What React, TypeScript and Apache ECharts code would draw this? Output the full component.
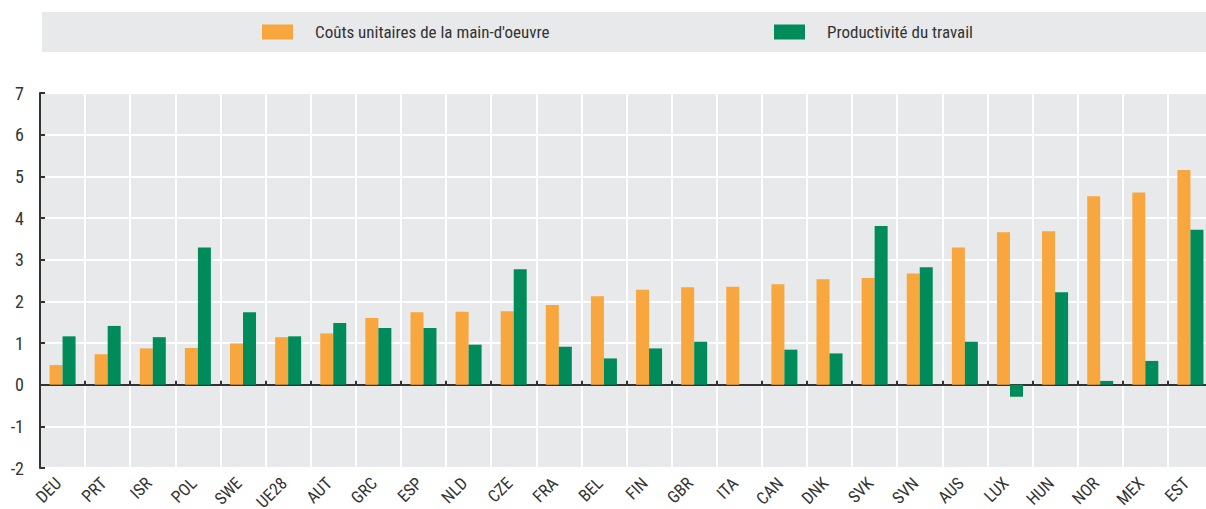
import React, { useEffect, useRef } from "react";
import * as echarts from "echarts";

const categories = ["DEU", "PRT", "ISR", "POL", "SWE", "UE28", "AUT", "GRC", "ESP", "NLD", "CZE", "FRA", "BEL", "FIN", "GBR", "ITA", "CAN", "DNK", "SVK", "SVN", "AUS", "LUX", "HUN", "NOR", "MEX", "EST"];
const unitLabourCosts = [0.47, 0.73, 0.87, 0.88, 0.99, 1.14, 1.23, 1.6, 1.74, 1.75, 1.76, 1.91, 2.12, 2.28, 2.34, 2.35, 2.41, 2.53, 2.56, 2.67, 3.29, 3.66, 3.68, 4.52, 4.61, 5.15];
const labourProductivity = [1.16, 1.41, 1.14, 3.29, 1.74, 1.16, 1.48, 1.36, 1.36, 0.96, 2.77, 0.91, 0.63, 0.87, 1.03, 0, 0.84, 0.75, 3.81, 2.82, 1.03, -0.29, 2.22, 0.09, 0.57, 3.72];
const seriesNames = ["Coûts unitaires de la main-d'oeuvre", "Productivité du travail"];
const yMin = -2;
const yMax = 7;
const yInterval = 1;

const FONT = "'Roboto Condensed', 'Liberation Sans Narrow', 'Arial Narrow', 'Liberation Sans', Arial, sans-serif";
const ORANGE = "#F8A63E";
const GREEN = "#008C5A";
const BG = "#E8E9EB";
const AXIS = "#333333";

export default function App() {
  const ref = useRef<HTMLDivElement>(null);
  useEffect(() => {
    if (!ref.current) return;
    const chart = echarts.init(ref.current, null, { renderer: "svg" });
    const legendText = { fontFamily: FONT, fontSize: 17, color: AXIS, lineHeight: 20, padding: [0, 0, 0, 17] };
    chart.setOption({
      animation: false,
      textStyle: { fontFamily: FONT },
      graphic: [
        { type: "rect", left: 42, top: 12, shape: { width: 1164, height: 40 }, style: { fill: BG }, z: -10 },
      ],
      legend: [
        {
          data: [seriesNames[0]],
          left: 262,
          top: 22,
          padding: 0,
          icon: "rect",
          itemWidth: 31,
          itemHeight: 15,
          textStyle: legendText,
          selectedMode: false,
        },
        {
          data: [seriesNames[1]],
          left: 774,
          top: 22,
          padding: 0,
          icon: "rect",
          itemWidth: 31,
          itemHeight: 15,
          textStyle: legendText,
          selectedMode: false,
        },
      ],
      grid: {
        left: 40,
        right: -7,
        top: 93,
        bottom: 41,
        show: true,
        backgroundColor: BG,
        borderWidth: 0,
        containLabel: false,
        outerBoundsMode: "none",
      },
      xAxis: [
        {
          type: "category",
          data: categories,
          position: "bottom",
          axisLine: { onZero: true, lineStyle: { color: AXIS, width: 2 } },
          axisTick: { show: true, inside: true, length: 4, lineStyle: { color: AXIS, width: 2 } },
          axisLabel: { show: false },
          splitLine: { show: true, lineStyle: { color: "#ffffff", width: 2 } },
        },
        {
          type: "category",
          data: categories,
          position: "bottom",
          axisLine: { show: false, onZero: false },
          axisTick: { show: false },
          splitLine: { show: false },
          axisLabel: {
            rotate: 45,
            margin: 8,
            padding: [0, 6, 0, 0],
            fontFamily: FONT,
            fontSize: 17,
            color: AXIS,
            interval: 0,
          },
        },
      ],
      yAxis: {
        type: "value",
        min: yMin,
        max: yMax,
        interval: yInterval,
        axisLine: { show: true, lineStyle: { color: AXIS, width: 2 } },
        axisTick: { show: true, inside: true, length: 5, lineStyle: { color: AXIS, width: 2 } },
        axisLabel: { margin: 16, fontFamily: FONT, fontSize: 18, color: AXIS },
        splitLine: { show: true, lineStyle: { color: "#ffffff", width: 2 } },
      },
      series: [
        {
          name: seriesNames[0],
          type: "bar",
          xAxisIndex: 0,
          data: unitLabourCosts,
          barWidth: 13,
          barGap: "0%",
          itemStyle: { color: ORANGE },
        },
        {
          name: seriesNames[1],
          type: "bar",
          xAxisIndex: 0,
          data: labourProductivity,
          barWidth: 13,
          barGap: "0%",
          itemStyle: { color: GREEN },
        },
      ],
    });
    return () => chart.dispose();
  }, []);
  return (
    <div style={{ position: "absolute", left: 0, top: 0, width: 1206, height: 509, overflow: "hidden", background: "#fff" }}>
      <div ref={ref} style={{ width: 1206, height: 509 }} />
    </div>
  );
}
